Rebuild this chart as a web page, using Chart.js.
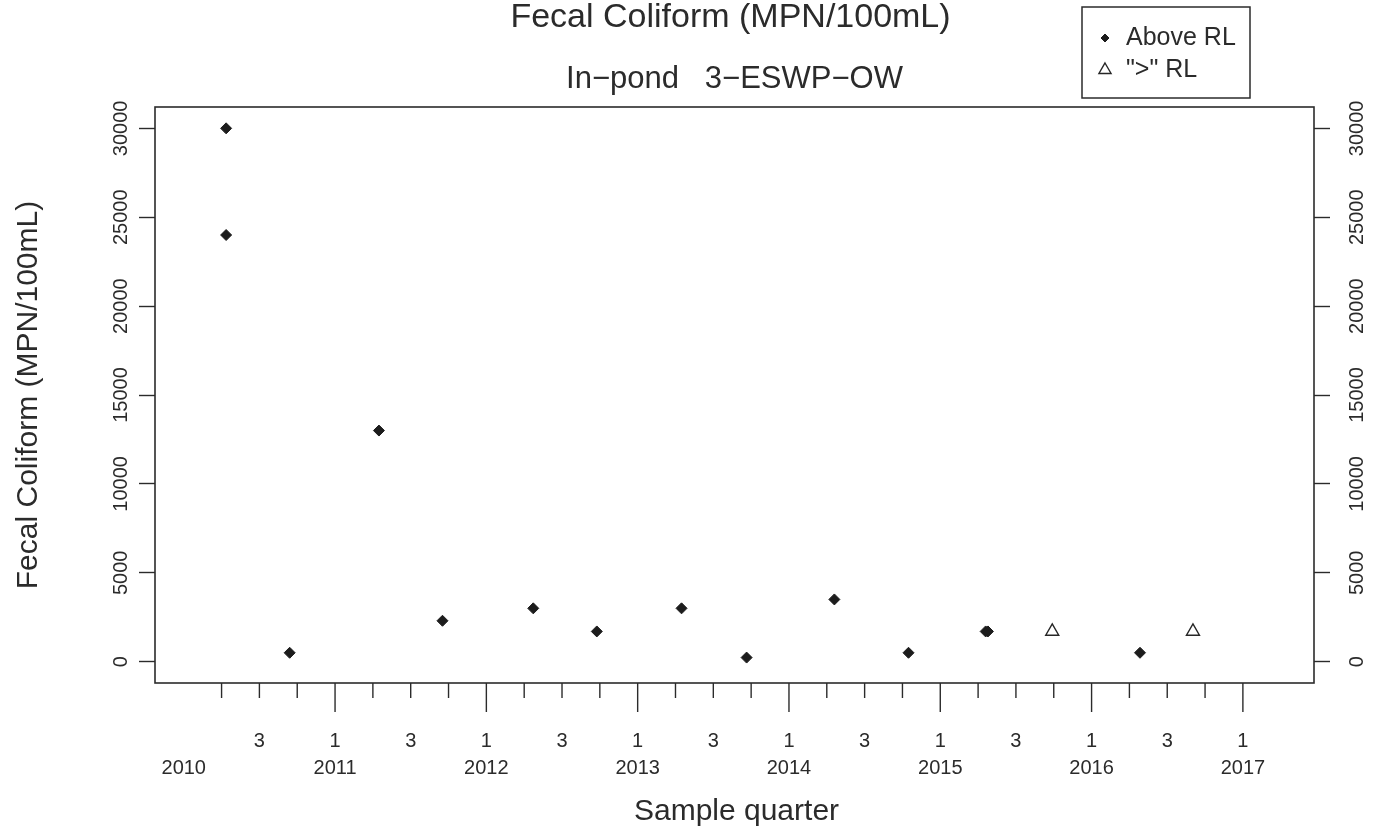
<!DOCTYPE html>
<html>
<head>
<meta charset="utf-8">
<title>Fecal Coliform (MPN/100mL)</title>
<script src="https://cdn.jsdelivr.net/npm/chart.js@4.4.1/dist/chart.umd.min.js"></script>
<style>
  html, body { margin: 0; padding: 0; background: #ffffff; }
  #wrap { width: 1377px; height: 834px; position: relative; }
</style>
</head>
<body>
<div id="wrap"><canvas id="chart" width="1377" height="834"></canvas></div>
<script>
// Sample dates (decimal years) and results for samples above the reporting limit
const aboveDates  = [2010.28, 2010.28, 2010.70, 2011.29, 2011.71, 2012.31, 2012.73, 2013.29, 2013.72, 2014.30, 2014.79, 2015.30, 2015.315, 2016.32];
const aboveValues = [30000,   24000,   500,     13000,   2300,    3000,    1700,    3000,    230,     3500,    500,     1700,    1700,     500];

// Samples reported as greater than the reporting limit
const gtDates  = [2015.74, 2016.67];
const gtValues = [1700,    1700];

// Axis ticks and labels
const yTicks = [0, 5000, 10000, 15000, 20000, 25000, 30000];
const yearLabels = ['2010', '2011', '2012', '2013', '2014', '2015', '2016', '2017'];
const quarterLabels = ['1', '', '3', ''];   // text shown under Q1..Q4
const firstYear = 2010;
const firstTickQuarter = 1;                 // first drawn tick mark: 2010 Q2

const FONT = '"Liberation Sans", Arial, Helvetica, sans-serif';
const INK = '#2b2b2b';

function quarterValues() {
  const out = [];
  for (let y = 0; y < yearLabels.length; y++) {
    for (let q = 0; q < 4; q++) {
      if (y === yearLabels.length - 1 && q > 0) break;
      out.push(firstYear + y + q / 4);
    }
  }
  return out;
}

const boxPlugin = {
  id: 'boxPlugin',
  afterDraw(chart) {
    const { ctx, chartArea: a, scales } = chart;
    const xs = scales.x;
    ctx.save();

    // plot frame
    ctx.strokeStyle = INK;
    ctx.lineWidth = 1.6;
    ctx.strokeRect(a.left, a.top, a.right - a.left, a.bottom - a.top);

    // x axis: quarter ticks (long at Q1) and two-line labels
    ctx.lineWidth = 1.4;
    ctx.fillStyle = INK;
    ctx.font = '20px ' + FONT;
    ctx.textAlign = 'center';
    ctx.textBaseline = 'middle';
    xs.ticks.forEach((t, i) => {
      const px = xs.getPixelForValue(t.value);
      const yearIdx = Math.floor(i / 4);
      const q = i % 4;
      if (i >= firstTickQuarter) {
        ctx.beginPath();
        ctx.moveTo(px, a.bottom);
        ctx.lineTo(px, a.bottom + (q === 0 ? 29 : 15));
        ctx.stroke();
        if (quarterLabels[q]) ctx.fillText(quarterLabels[q], px, a.bottom + 58);
      }
      if (q === 0) ctx.fillText(yearLabels[yearIdx], px, a.bottom + 85);
    });

    // y axes: rotated tick labels on both sides
    [['y', a.left - 34], ['y2', a.right + 43]].forEach(([id, cx]) => {
      const s = scales[id];
      s.ticks.forEach(t => {
        const py = s.getPixelForValue(t.value);
        ctx.save();
        ctx.translate(cx, py);
        ctx.rotate(-Math.PI / 2);
        ctx.fillText(String(t.value), 0, 0);
        ctx.restore();
      });
    });

    // titles
    const mid = (a.left + a.right) / 2;
    ctx.textBaseline = 'alphabetic';
    ctx.font = '34px ' + FONT;
    ctx.fillText('Fecal Coliform (MPN/100mL)', mid - 4, 27);
    ctx.font = '31px ' + FONT;
    ctx.fillText('In\u2212pond   3\u2212ESWP\u2212OW', mid, 88);
    ctx.font = '30px ' + FONT;
    ctx.fillText('Sample quarter', mid + 2, 820);
    ctx.save();
    ctx.translate(37, (a.top + a.bottom) / 2);
    ctx.rotate(-Math.PI / 2);
    ctx.fillText('Fecal Coliform (MPN/100mL)', 0, 0);
    ctx.restore();

    // legend box
    const lx = 1082, ly = 7, lw = 168, lh = 91;
    ctx.strokeStyle = INK;
    ctx.lineWidth = 1.5;
    ctx.strokeRect(lx, ly, lw, lh);
    ctx.font = '25px ' + FONT;
    ctx.textAlign = 'left';
    ctx.textBaseline = 'middle';
    chart.data.datasets.forEach((ds, i) => {
      const ry = ly + 31 + i * 32;
      ctx.fillStyle = ds.backgroundColor;
      ctx.strokeStyle = ds.borderColor;
      ctx.lineWidth = ds.borderWidth;
      Chart.helpers.drawPoint(ctx, {
        pointStyle: ds.pointStyle,
        radius: i === 0 ? 4 : 7,
        rotation: 0,
        borderWidth: ds.borderWidth
      }, 1105, ry);
      ctx.fillStyle = INK;
      ctx.fillText(ds.label, 1126, ry);
    });

    ctx.restore();
  }
};

const tickGrid = {
  display: true,
  drawOnChartArea: false,
  drawTicks: true,
  tickLength: 16,
  tickColor: INK,
  tickWidth: 1.4
};

new Chart(document.getElementById('chart'), {
  type: 'scatter',
  data: {
    datasets: [
      {
        label: 'Above RL',
        data: aboveDates.map((d, i) => ({ x: d, y: aboveValues[i] })),
        pointStyle: 'rectRot',
        pointRadius: 5.5,
        backgroundColor: '#1c1c1c',
        borderColor: '#1c1c1c',
        borderWidth: 1
      },
      {
        label: '">" RL',
        data: gtDates.map((d, i) => ({ x: d, y: gtValues[i] })),
        pointStyle: 'triangle',
        pointRadius: 7.5,
        backgroundColor: 'rgba(255,255,255,0)',
        borderColor: '#262626',
        borderWidth: 1.4
      }
    ]
  },
  plugins: [boxPlugin],
  options: {
    responsive: false,
    animation: false,
    events: [],
    layout: { padding: { top: 107, left: 0, right: 0, bottom: 0 } },
    plugins: {
      legend: { display: false },
      title: { display: false },
      tooltip: { enabled: false }
    },
    scales: {
      x: {
        type: 'linear',
        min: 2009.81,
        max: 2017.47,
        grid: { display: false },
        border: { display: false },
        ticks: { display: false },
        afterBuildTicks: s => { s.ticks = quarterValues().map(v => ({ value: v })); },
        afterFit: s => { s.height = 151; }
      },
      y: {
        type: 'linear',
        position: 'left',
        min: -1200,
        max: 31200,
        grid: tickGrid,
        border: { display: false },
        ticks: { display: false },
        afterBuildTicks: s => { s.ticks = yTicks.map(v => ({ value: v })); },
        afterFit: s => { s.width = 155; }
      },
      y2: {
        type: 'linear',
        position: 'right',
        min: -1200,
        max: 31200,
        grid: tickGrid,
        border: { display: false },
        ticks: { display: false },
        afterBuildTicks: s => { s.ticks = yTicks.map(v => ({ value: v })); },
        afterFit: s => { s.width = 63; }
      }
    }
  }
});
</script>
</body>
</html>
